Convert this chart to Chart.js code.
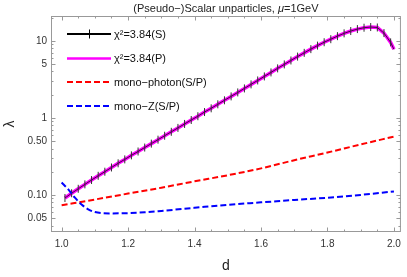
<!DOCTYPE html>
<html>
<head>
<meta charset="utf-8">
<script src="https://cdn.jsdelivr.net/npm/chart.js@4.4.0/dist/chart.umd.min.js"></script>
<style>
html, body { margin: 0; padding: 0; background: #fff; }
</style>
</head>
<body>
<canvas id="lambdaChart" width="407" height="277"></canvas>
<script>
// chi^2 = 3.84 curves (scalar S, pseudoscalar P), sampled every 0.02 in d
var dChi = [1.01, 1.03, 1.05, 1.07, 1.09, 1.11, 1.13, 1.15, 1.17, 1.19,
            1.21, 1.23, 1.25, 1.27, 1.29, 1.31, 1.33, 1.35, 1.37, 1.39,
            1.41, 1.43, 1.45, 1.47, 1.49, 1.51, 1.53, 1.55, 1.57, 1.59,
            1.61, 1.63, 1.65, 1.67, 1.69, 1.71, 1.73, 1.75, 1.77, 1.79,
            1.81, 1.83, 1.85, 1.87, 1.89, 1.91, 1.93, 1.95, 1.97, 1.99, 2.00];
var chiS = [0.0912, 0.105, 0.120, 0.137, 0.156, 0.177, 0.200, 0.227, 0.257, 0.289,
            0.326, 0.366, 0.412, 0.463, 0.521, 0.586, 0.659, 0.741, 0.834, 0.938,
            1.05, 1.19, 1.33, 1.50, 1.69, 1.90, 2.14, 2.41, 2.72, 3.06,
            3.45, 3.89, 4.39, 4.94, 5.56, 6.24, 6.98, 7.80, 8.67, 9.59,
            10.5, 11.5, 12.5, 13.4, 14.2, 14.8, 15.1, 14.9, 12.6, 9.55, 7.76];
var chiP = [0.0912, 0.105, 0.120, 0.137, 0.156, 0.177, 0.200, 0.227, 0.257, 0.289,
            0.326, 0.366, 0.412, 0.463, 0.521, 0.586, 0.659, 0.741, 0.834, 0.938,
            1.05, 1.19, 1.33, 1.50, 1.69, 1.90, 2.14, 2.41, 2.72, 3.06,
            3.45, 3.89, 4.39, 4.94, 5.56, 6.24, 6.98, 7.80, 8.67, 9.59,
            10.5, 11.5, 12.5, 13.4, 14.2, 14.8, 15.1, 14.9, 12.6, 9.55, 7.76];

// mono-photon (S/P)
var dPhoton = [1.0, 1.1, 1.2, 1.3, 1.4, 1.5, 1.6, 1.7, 1.8, 1.9, 2.0];
var photon = [0.0733, 0.0871, 0.104, 0.124, 0.150, 0.180, 0.221, 0.282, 0.355, 0.452, 0.571];

// mono-Z (S/P)
var dZ = [1.0, 1.02, 1.04, 1.06, 1.08, 1.10, 1.15, 1.20, 1.25, 1.30, 1.40, 1.50, 1.60, 1.70, 1.80, 1.90, 2.0];
var monoZ = [0.145, 0.118, 0.092, 0.075, 0.065, 0.060, 0.0575, 0.058, 0.0595, 0.062, 0.068, 0.0745, 0.080, 0.086, 0.092, 0.100, 0.111];

// axes
var xTickValues = [1.0, 1.2, 1.4, 1.6, 1.8, 2.0];
var yTickValues = [0.05, 0.1, 0.5, 1, 5, 10];
var yTickLabels = ['0.05', '0.10', '0.50', '1', '5', '10'];

var FONT = 'Liberation Sans, Arial, sans-serif';

function pts(xs, ys) {
    return xs.map(function(x, i) { return { x: x, y: ys[i] }; });
}

// frame with inward ticks, title and legend (Mathematica look)
var framePlugin = {
    id: 'frame',
    afterDraw: function(chart) {
        var ctx = chart.ctx, a = chart.chartArea;
        var xs = chart.scales.x, ys = chart.scales.y;
        var MAJ = 4.5, MIN = 2.5;
        ctx.save();
        ctx.strokeStyle = '#999';
        ctx.lineWidth = 1;
        ctx.strokeRect(a.left + 0.5, a.top + 0.5, a.right - a.left - 1, a.bottom - a.top - 1);

        ctx.beginPath();
        // x ticks, bottom and top
        for (var k = 0; k <= 20; k++) {
            var v = 1.0 + k * 0.05;
            var len = (k % 4 === 0) ? MAJ : MIN;
            var px = Math.round(xs.getPixelForValue(v)) + 0.5;
            ctx.moveTo(px, a.bottom); ctx.lineTo(px, a.bottom - len);
            ctx.moveTo(px, a.top); ctx.lineTo(px, a.top + len);
        }
        // y ticks, left and right
        [0.01, 0.1, 1, 10].forEach(function(dec) {
            for (var m = 1; m <= 9; m++) {
                var val = dec * m;
                if (val < ys.min || val > ys.max) continue;
                var isMaj = (m === 1 || m === 5);
                var len = isMaj ? MAJ : MIN;
                var py = Math.round(ys.getPixelForValue(val)) + 0.5;
                ctx.moveTo(a.left, py); ctx.lineTo(a.left + len, py);
                ctx.moveTo(a.right, py); ctx.lineTo(a.right - len, py);
            }
        });
        ctx.stroke();

        // title
        ctx.fillStyle = '#222';
        ctx.textBaseline = 'middle';
        var t1 = '(Pseudo\u2212)Scalar unparticles, ', t2 = '\u03bc', t3 = '=1GeV';
        ctx.font = '11px ' + FONT;
        var w1 = ctx.measureText(t1).width, w3 = ctx.measureText(t3).width;
        ctx.font = 'italic 11px ' + FONT;
        var w2 = ctx.measureText(t2).width;
        var tx = (a.left + a.right) / 2 - (w1 + w2 + w3) / 2;
        ctx.textAlign = 'left';
        ctx.font = '11px ' + FONT;
        ctx.fillText(t1, tx, 9);
        ctx.font = 'italic 11px ' + FONT;
        ctx.fillText(t2, tx + w1, 9);
        ctx.font = '11px ' + FONT;
        ctx.fillText(t3, tx + w1 + w2, 9);

        // legend
        var rows = [
            { label: '\u03c7\u00b2=3.84(S)', color: '#000', width: 2, dash: [], tick: true },
            { label: '\u03c7\u00b2=3.84(P)', color: '#ff00ff', width: 2.5, dash: [], tick: false },
            { label: 'mono\u2212photon(S/P)', color: '#ff0000', width: 2, dash: [6, 3], tick: false },
            { label: 'mono\u2212Z(S/P)', color: '#0000ff', width: 2, dash: [6, 3], tick: false }
        ];
        var rowY = [34, 58.5, 82, 106];
        rows.forEach(function(r, i) {
            var y = rowY[i];
            ctx.beginPath();
            ctx.setLineDash(r.dash);
            ctx.strokeStyle = r.color;
            ctx.lineWidth = r.width;
            ctx.moveTo(67, y); ctx.lineTo(111, y);
            ctx.stroke();
            ctx.setLineDash([]);
            if (r.tick) {
                ctx.beginPath();
                ctx.lineWidth = 1;
                ctx.moveTo(89.5, y - 4.5); ctx.lineTo(89.5, y + 4.5);
                ctx.stroke();
            }
            ctx.fillStyle = '#111';
            ctx.font = '11px ' + FONT;
            ctx.textAlign = 'left';
            ctx.fillText(r.label, 114, y + 0.5);
        });
        ctx.restore();
    }
};

var ctx = document.getElementById('lambdaChart').getContext('2d');
var lambdaChart = new Chart(ctx, {
    type: 'line',
    data: {
        datasets: [{
            label: 'mono-Z(S/P)',
            data: pts(dZ, monoZ),
            borderColor: '#0000ff',
            borderWidth: 2,
            borderDash: [6, 3],
            pointRadius: 0,
            cubicInterpolationMode: 'monotone'
        }, {
            label: 'mono-photon(S/P)',
            data: pts(dPhoton, photon),
            borderColor: '#ff0000',
            borderWidth: 2,
            borderDash: [6, 3],
            pointRadius: 0,
            cubicInterpolationMode: 'monotone'
        }, {
            label: 'chi2=3.84(S)',
            data: pts(dChi, chiS),
            borderColor: '#111',
            borderWidth: 0.8,
            pointStyle: 'line',
            pointRotation: 90,
            pointRadius: function(c) { return c.dataIndex === dChi.length - 1 ? 0 : 4; },
            pointBorderColor: '#333',
            pointBorderWidth: 1,
            tension: 0
        }, {
            label: 'chi2=3.84(P)',
            data: pts(dChi, chiP),
            borderColor: '#ff00ff',
            borderWidth: 3.5,
            pointRadius: 0,
            tension: 0
        }]
    },
    options: {
        responsive: false,
        animation: false,
        events: [],
        layout: { padding: { left: 0, top: 16, right: 5, bottom: 0 } },
        plugins: {
            legend: { display: false },
            tooltip: { enabled: false }
        },
        scales: {
            x: {
                type: 'linear',
                min: 0.968,
                max: 2.021,
                afterBuildTicks: function(s) { s.ticks = xTickValues.map(function(v) { return { value: v }; }); },
                afterFit: function(s) { s.height = 45; },
                grid: { display: false, drawTicks: false },
                border: { display: false },
                ticks: {
                    padding: 6,
                    color: '#333',
                    maxRotation: 0,
                    autoSkip: false,
                    font: { family: FONT, size: 10 },
                    callback: function(v) { return Number(v).toFixed(1); }
                },
                title: {
                    display: true,
                    text: 'd',
                    color: '#222',
                    font: { family: FONT, size: 14 },
                    padding: { top: 0, bottom: 2 }
                }
            },
            y: {
                type: 'logarithmic',
                min: 0.033,
                max: 21,
                afterBuildTicks: function(s) { s.ticks = yTickValues.map(function(v) { return { value: v }; }); },
                afterFit: function(s) { s.width = 51; },
                grid: { display: false, drawTicks: false },
                border: { display: false },
                ticks: {
                    padding: 4,
                    color: '#333',
                    autoSkip: false,
                    font: { family: FONT, size: 10 },
                    callback: function(v, i) { return yTickLabels[i]; }
                },
                title: {
                    display: true,
                    text: '\u03bb',
                    color: '#222',
                    font: { family: FONT, size: 14 },
                    padding: { top: 2, bottom: 0 }
                }
            }
        }
    },
    plugins: [framePlugin]
});
</script>
</body>
</html>
